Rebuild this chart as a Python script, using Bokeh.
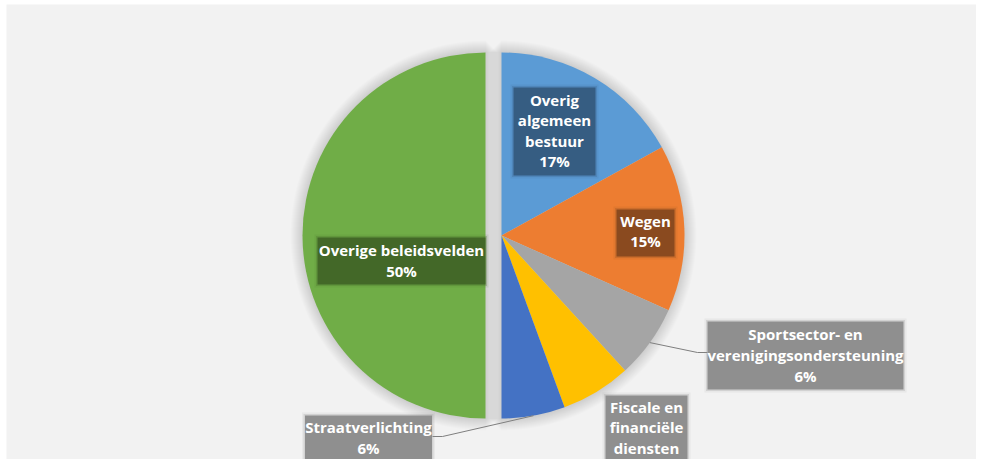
import math
from bokeh.plotting import figure
from bokeh.models import Range1d
from bokeh.core.properties import value
from bokeh.embed import file_html
from bokeh.resources import INLINE

# ---------------- data ----------------
categories = ["Overig algemeen bestuur", "Wegen",
              "Sportsector- en verenigingsondersteuning",
              "Fiscale en financiële diensten", "Straatverlichting",
              "Overige beleidsvelden"]
values = [17.0, 14.7, 6.5, 6.2, 5.6, 50.0]
pct_labels = ["17%", "15%", "6%", "6%", "6%", "50%"]
label_lines = [["Overig", "algemeen", "bestuur"], ["Wegen"],
               ["Sportsector- en", "verenigingsondersteuning"],
               ["Fiscale en", "financiële", "diensten"],
               ["Straatverlichting"], ["Overige beleidsvelden"]]

# ---------------- styles / layout ----------------
slice_colors = ["#5b9bd5", "#ed7d31", "#a5a5a5", "#ffc000", "#4472c4", "#70ad47"]
box_colors = ["#365d82", "#8a4a1f", "#8f8f8f", "#8f8f8f", "#8f8f8f", "#436828"]
explode = [0, 0, 0, 0, 0, 16]          # px offset of slice along its mid-angle
# label boxes (screen px): centre x, top, width, height, first text line y, line height
boxes = [(554, 95, 82, 88, 107, 20.5), (645, 217, 58, 47, 228, 20.5),
         (805, 329, 196, 68, 341, 21), (646, 403, 82, 80, 414, 20.5),
         (368, 423, 127, 50, 434, 21), (401, 245, 168, 47, 257, 21)]
leader_elbows = {2: [(697, 360), (707, 360)], 4: [(442, 444), (432, 444)]}
FONT = "Open Sans"
FSIZE = "15px"

W, H = 976, 459
PAGE_H = 467
TOP = 8                # first reference row shown
CX, CY = 501, 243      # pie centre (screen px)
R = 183


def Y(sy):             # screen y -> data y
    return PAGE_H - sy


p = figure(width=W, height=H, x_range=Range1d(0, W), y_range=Range1d(Y(TOP + H), Y(TOP)),
           output_backend="svg", toolbar_location=None, min_border=0)
p.axis.visible = False
p.grid.visible = False
p.outline_line_color = None
p.background_fill_color = "white"
p.border_fill_color = "white"

# chart area background
p.quad(left=[6], right=[W + 10], bottom=[Y(PAGE_H + 10)], top=[Y(12)],
       fill_color="#f2f2f2", line_color=None)

total = sum(values)
cum = 0.0
geo = []
for i, v in enumerate(values):
    a0 = cum / total
    a1 = (cum + v) / total
    cum += v
    mid = (a0 + a1) / 2
    ang_mid = math.pi / 2 - 2 * math.pi * mid
    cx = CX + explode[i] * math.cos(ang_mid)
    cy = CY - explode[i] * math.sin(ang_mid)
    geo.append((a0, a1, mid, cx, cy))

# soft shadow around the two pie parts
def part_polygon(cx, cy, r, d, side):
    xs, ys = [], []
    n = 72
    for k in range(n + 1):
        t = -math.pi / 2 + math.pi * k / n
        xs.append(cx + side * (r + d) * math.cos(t))
        ys.append(Y(cy + (r + d) * math.sin(t)))
    xs += [cx - side * d, cx - side * d]
    ys += [Y(cy + r), Y(cy - r)]
    return xs, ys

parts = [(geo[5][3], geo[5][4], -1), (CX, CY, 1)]
for (pcx, pcy, side) in parts:
    for d in range(1, 13):
        xs, ys = part_polygon(pcx, pcy, R, d, side)
        p.patch(xs, ys, fill_color="black", fill_alpha=0.011, line_color=None)

# wedges
for i, (a0, a1, mid, cx, cy) in enumerate(geo):
    start = math.pi / 2 - 2 * math.pi * a1
    end = math.pi / 2 - 2 * math.pi * a0
    p.wedge(x=[cx], y=[Y(cy)], radius=R, start_angle=start, end_angle=end,
            fill_color=slice_colors[i], line_color=None)

# leader lines
for i, pts in leader_elbows.items():
    a0, a1, mid, cx, cy = geo[i]
    ang = math.pi / 2 - 2 * math.pi * mid
    sx = cx + R * math.cos(ang)
    sy = cy - R * math.sin(ang)
    xs = [sx] + [q[0] for q in pts]
    ys = [Y(sy)] + [Y(q[1]) for q in pts]
    p.line(xs, ys, line_color="#7f7f7f", line_width=1)

# label boxes and texts
for i, (bx, top, bw, bh, fy, lh) in enumerate(boxes):
    for g, a in ((3, 0.10), (1.5, 0.25)):
        p.quad(left=[bx - bw / 2 - g], right=[bx + bw / 2 + g], top=[Y(top - g)],
               bottom=[Y(top + bh + g)], fill_color=box_colors[i], fill_alpha=a, line_color=None)
    p.quad(left=[bx - bw / 2], right=[bx + bw / 2], top=[Y(top)], bottom=[Y(top + bh)],
           fill_color=box_colors[i], line_color=None)
    lines = label_lines[i] + [pct_labels[i]]
    for k, t in enumerate(lines):
        ty = fy + k * lh
        if ty > TOP + H:
            continue
        p.text(x=[bx], y=[Y(ty)], text=[t], text_align="center", text_baseline="middle",
               text_color="white", text_font=value(FONT), text_font_size=FSIZE,
               text_font_style="bold")

open("out.html", "w").write(file_html(p, INLINE))
